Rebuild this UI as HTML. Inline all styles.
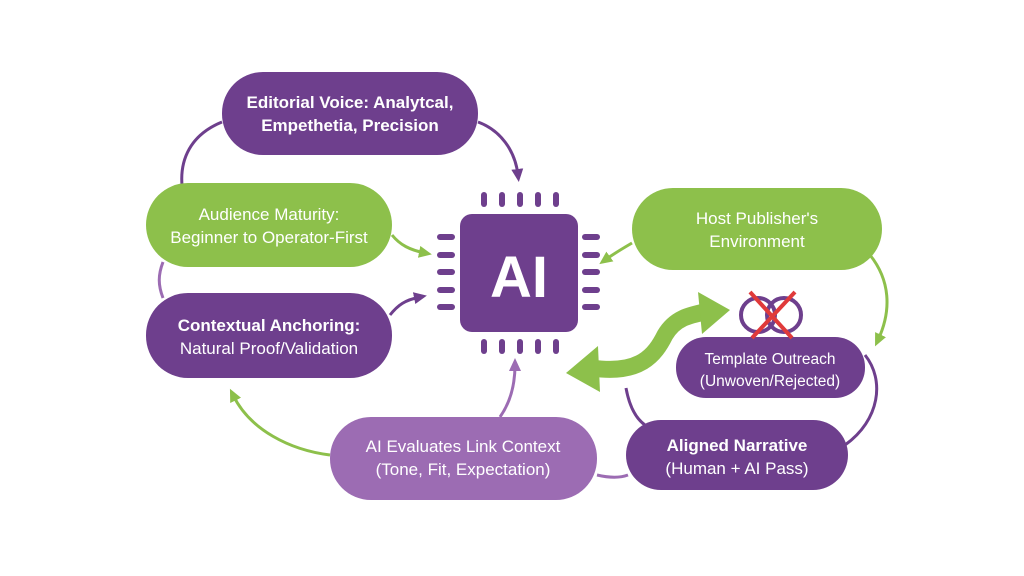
<!DOCTYPE html>
<html><head><meta charset="utf-8"><style>
html,body{margin:0;padding:0;background:#fff;}
svg{display:block;font-family:"Liberation Sans",sans-serif;}
text{fill:#fff;text-anchor:middle;font-size:17px;}
</style></head><body>
<svg width="1024" height="576" viewBox="0 0 1024 576">
<defs>
<marker id="ag" markerWidth="14" markerHeight="14" refX="6" refY="6" orient="auto" markerUnits="userSpaceOnUse"><path d="M0,0 L13,6 L0,12 Z" fill="#8dc04b"/></marker>
<marker id="al" markerWidth="14" markerHeight="14" refX="6" refY="6" orient="auto" markerUnits="userSpaceOnUse"><path d="M0,0 L13,6 L0,12 Z" fill="#9c6cb3"/></marker>
<marker id="ap2" markerWidth="14" markerHeight="14" refX="6" refY="6" orient="auto" markerUnits="userSpaceOnUse"><path d="M0,0 L13,6 L0,12 Z" fill="#6e3f8d"/></marker>
</defs>
<path d="M222,122 C190,135 180,160 182,185" stroke="#6e3f8d" stroke-width="3" fill="none"/>
<path d="M478,122 C500,130 515,150 518,175" stroke="#6e3f8d" stroke-width="3" fill="none" marker-end="url(#ap2)"/>
<path d="M163,262 C158,275 158,285 163,298" stroke="#9c6cb3" stroke-width="3" fill="none"/>
<path d="M392,235 C400,245 410,250 425,253" stroke="#8dc04b" stroke-width="3" fill="none" marker-end="url(#ag)"/>
<path d="M390,315 C398,305 405,300 420,297" stroke="#6e3f8d" stroke-width="3" fill="none" marker-end="url(#ap2)"/>
<path d="M330,455 C290,450 250,430 233,395" stroke="#8dc04b" stroke-width="3" fill="none" marker-end="url(#ag)"/>
<path d="M500,417 C512,400 515,380 515,365" stroke="#9c6cb3" stroke-width="3" fill="none" marker-end="url(#al)"/>
<path d="M597,475 C610,478 620,478 628,475" stroke="#9c6cb3" stroke-width="3" fill="none"/>
<path d="M632,243 C620,250 612,255 605,260" stroke="#8dc04b" stroke-width="3" fill="none" marker-end="url(#ag)"/>
<path d="M870,255 C890,280 892,310 878,340" stroke="#8dc04b" stroke-width="3" fill="none" marker-end="url(#ag)"/>
<path d="M865,355 C885,380 880,420 845,445" stroke="#6e3f8d" stroke-width="3" fill="none"/>
<path d="M626,388 C630,410 638,420 645,425" stroke="#6e3f8d" stroke-width="3" fill="none"/>
<path d="M592,368 C640,375 655,355 665,335 C675,318 690,315 705,312" stroke="#8dc04b" stroke-width="17" fill="none"/>
<path d="M698,292 L730,310 L702,334 Z" fill="#8dc04b"/>
<path d="M566,373 L598,346 L600,392 Z" fill="#8dc04b"/>
<g fill="#6e3f8d">
<rect x="460" y="214" width="118" height="118" rx="12"/>
<rect x="481" y="192" width="6" height="15" rx="3"/><rect x="499" y="192" width="6" height="15" rx="3"/><rect x="517" y="192" width="6" height="15" rx="3"/><rect x="535" y="192" width="6" height="15" rx="3"/><rect x="553" y="192" width="6" height="15" rx="3"/>
<rect x="481" y="339" width="6" height="15" rx="3"/><rect x="499" y="339" width="6" height="15" rx="3"/><rect x="517" y="339" width="6" height="15" rx="3"/><rect x="535" y="339" width="6" height="15" rx="3"/><rect x="553" y="339" width="6" height="15" rx="3"/>
<rect x="437" y="234" width="18" height="6" rx="3"/><rect x="437" y="252" width="18" height="6" rx="3"/><rect x="437" y="269" width="18" height="6" rx="3"/><rect x="437" y="287" width="18" height="6" rx="3"/><rect x="437" y="304" width="18" height="6" rx="3"/>
<rect x="582" y="234" width="18" height="6" rx="3"/><rect x="582" y="252" width="18" height="6" rx="3"/><rect x="582" y="269" width="18" height="6" rx="3"/><rect x="582" y="287" width="18" height="6" rx="3"/><rect x="582" y="304" width="18" height="6" rx="3"/>
</g>
<text x="519" y="297" style="font-size:58px;font-weight:bold">AI</text>
<rect x="222" y="72" width="256" height="83" rx="41" fill="#6e3f8d"/>
<text x="350" y="108" font-weight="bold">Editorial Voice: Analytcal,</text>
<text x="350" y="131" font-weight="bold">Empethetia, Precision</text>
<rect x="146" y="183" width="246" height="84" rx="42" fill="#8dc04b"/>
<text x="269" y="220">Audience Maturity:</text>
<text x="269" y="243">Beginner to Operator-First</text>
<rect x="146" y="293" width="246" height="85" rx="42" fill="#6e3f8d"/>
<text x="269" y="331" font-weight="bold">Contextual Anchoring:</text>
<text x="269" y="354">Natural Proof/Validation</text>
<rect x="632" y="188" width="250" height="82" rx="41" fill="#8dc04b"/>
<text x="757" y="224">Host Publisher's</text>
<text x="757" y="247">Environment</text>
<rect x="676" y="337" width="189" height="61" rx="30" fill="#6e3f8d"/>
<text x="770" y="364" style="font-size:15.5px">Template Outreach</text>
<text x="770" y="386" style="font-size:15.5px">(Unwoven/Rejected)</text>
<rect x="626" y="420" width="222" height="70" rx="35" fill="#6e3f8d"/>
<text x="737" y="451" font-weight="bold">Aligned Narrative</text>
<text x="737" y="474">(Human + AI Pass)</text>
<rect x="330" y="417" width="267" height="83" rx="41" fill="#9c6cb3"/>
<text x="463" y="452">AI Evaluates Link Context</text>
<text x="463" y="475">(Tone, Fit, Expectation)</text>
<circle cx="758" cy="315" r="17" fill="none" stroke="#6e3f8d" stroke-width="4"/>
<circle cx="784" cy="315" r="17" fill="none" stroke="#6e3f8d" stroke-width="4"/>
<path d="M750,292 L792,338 M795,292 L752,338" stroke="#e03a3a" stroke-width="4"/>
</svg>
</body></html>
